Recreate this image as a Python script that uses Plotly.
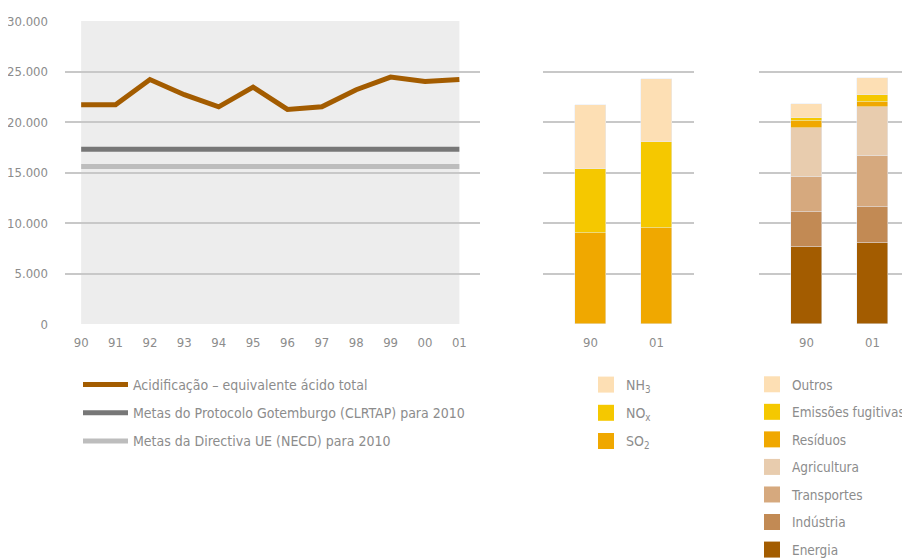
import plotly.graph_objects as go

FONT = "DejaVu Sans Condensed, Liberation Sans Narrow, Arial Narrow, sans-serif"
TXT = "#8c8c8c"
GRID = "#c8c8c8"

# left panel: acidification trend + 2010 targets
years = ["90", "91", "92", "93", "94", "95", "96", "97", "98", "99", "00", "01"]
acid_total = [21700, 21700, 24200, 22700, 21500, 23450, 21250, 21500, 23200, 24450, 24000, 24200]
target_clrtap = 17300
target_necd = 15600

# middle panel: by gas
bar_years = ["90", "01"]
so2 = [9000, 9500]
nox = [6300, 8550]
nh3 = [6350, 6250]

# right panel: by sector
energia = [7650, 8050]
industria = [3450, 3550]
transportes = [3450, 5050]
agricultura = [4850, 4850]
residuos = [700, 500]
fugitivas = [300, 700]
outros = [1400, 1700]

gases = [("SO<sub>2</sub>", so2, "#f0a800"),
         ("NO<sub>x</sub>", nox, "#f5c800"),
         ("NH<sub>3</sub>", nh3, "#fddfb4")]
sectors = [("Energia", energia, "#a35c00"),
           ("Indústria", industria, "#c28a54"),
           ("Transportes", transportes, "#d6a97e"),
           ("Agricultura", agricultura, "#e8ccae"),
           ("Resíduos", residuos, "#f0a800"),
           ("Emissões fugitivas", fugitivas, "#f5c800"),
           ("Outros", outros, "#fddfb4")]

# page body has an 8px margin, so the figure is a bit smaller than the window
W, H, OFF = 902, 552, 8


def px(x):
    return (x - OFF) / W


def py(y):
    return 1 - (y - OFF) / H


fig = go.Figure()

lines = [("Acidificação – equivalente ácido total", acid_total, "#a35c00"),
         ("Metas do Protocolo Gotemburgo (CLRTAP) para 2010", [target_clrtap] * len(years), "#777777"),
         ("Metas da Directiva UE (NECD) para 2010", [target_necd] * len(years), "#bdbdbd")]
for i, (name, vals, col) in enumerate(lines):
    fig.add_scatter(x=years, y=vals, mode="lines", line=dict(color=col, width=5),
                    name=name, legend="legend", legendgroup=f"l{i}", legendrank=i + 1)

for i, (name, vals, col) in enumerate(gases):
    fig.add_bar(x=bar_years, y=vals, marker_color=col, width=0.47, xaxis="x2", yaxis="y2",
                showlegend=False)
    # legend swatch (bigger square than the default bar symbol)
    fig.add_scatter(x=[None], y=[None], mode="markers", xaxis="x2", yaxis="y2",
                    marker=dict(symbol="square", size=16, color=col),
                    name=name, legend="legend2", legendgroup=f"g{i}", legendrank=10 - i)

for i, (name, vals, col) in enumerate(sectors):
    fig.add_bar(x=bar_years, y=vals, marker_color=col, width=0.47, xaxis="x3", yaxis="y3",
                showlegend=False)
    fig.add_scatter(x=[None], y=[None], mode="markers", xaxis="x3", yaxis="y3",
                    marker=dict(symbol="square", size=16, color=col),
                    name=name, legend="legend3", legendgroup=f"s{i}", legendrank=20 - i)

# grey background behind the trend line
fig.add_shape(type="rect", xref="x", yref="y", x0=0, x1=len(years) - 1, y0=0, y1=30000,
              fillcolor="#ededed", line_width=0, layer="below")

yax = dict(range=[0, 30000], domain=[py(324), py(21)], showgrid=True, gridcolor=GRID,
           gridwidth=1.5, zeroline=False, showline=False, dtick=5000, fixedrange=True,
           automargin=False)
xax = dict(showgrid=False, zeroline=False, showline=False, ticks="", type="category",
           tickfont=dict(size=13, color=TXT), ticklabelstandoff=9, automargin=False)

legend_base = dict(font=dict(size=14, color=TXT, family=FONT), bgcolor="rgba(0,0,0,0)",
                   xanchor="left", yanchor="top", traceorder="grouped",
                   tracegroupgap=7, itemclick=False)

fig.update_layout(
    width=W, height=H,
    margin=dict(l=0, r=0, t=0, b=0, autoexpand=False),
    paper_bgcolor="white", plot_bgcolor="rgba(0,0,0,0)",
    font=dict(family=FONT, color=TXT, size=14),
    barmode="stack", bargap=0,
    showlegend=True,
    xaxis=dict(xax, domain=[px(65), px(480)], range=[-0.47, 11.6]),
    xaxis2=dict(xax, domain=[px(543), px(694)], range=[-0.72, 1.57], anchor="y2"),
    xaxis3=dict(xax, domain=[px(759), 1.0], range=[-0.72, 1.57], anchor="y3"),
    yaxis=dict(yax, tickvals=[0, 5000, 10000, 15000, 20000, 25000, 30000],
               ticktext=["0", "5.000", "10.000", "15.000", "20.000", "25.000", "30.000"],
               tickfont=dict(size=13, color=TXT), ticklabelstandoff=16),
    yaxis2=dict(yax, anchor="x2", showticklabels=False),
    yaxis3=dict(yax, anchor="x3", showticklabels=False),
    legend=dict(legend_base, x=70 / W, y=1 - 361 / H, itemwidth=45),
    legend2=dict(legend_base, x=578 / W, y=1 - 361 / H),
    legend3=dict(legend_base, x=744 / W, y=1 - 361 / H,
                 font=dict(size=13.5, color=TXT, family=FONT)),
)

fig.write_html("out.html")
